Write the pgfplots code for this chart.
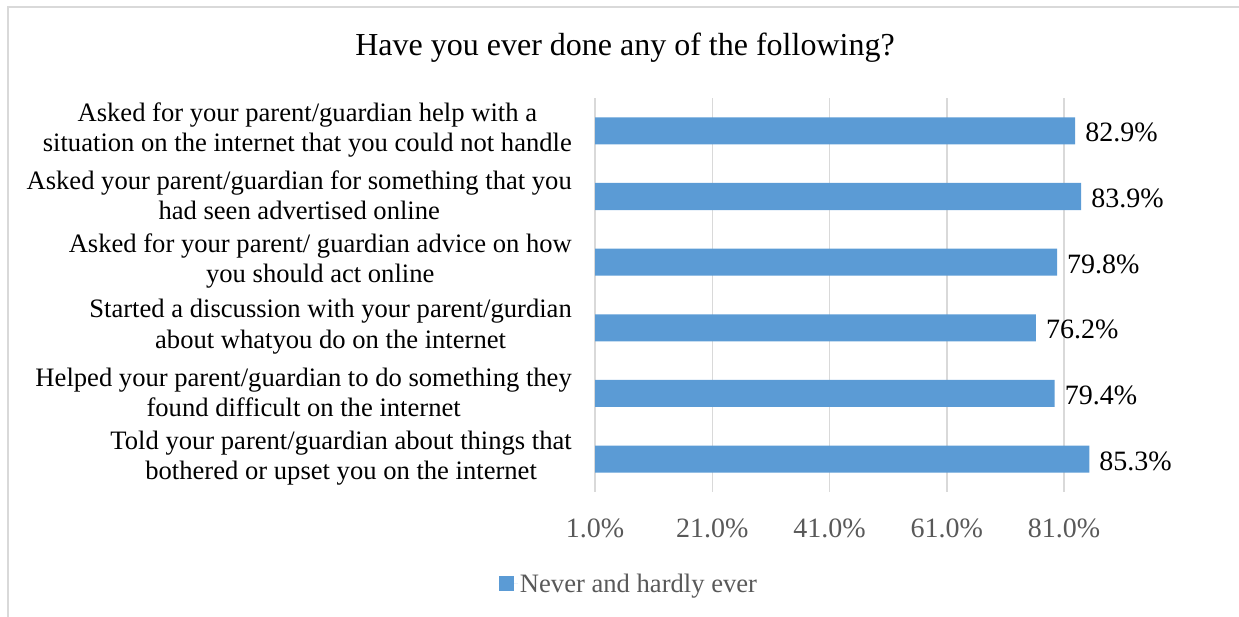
\documentclass[border=0pt]{standalone}
\usepackage{pgfplots}
\pgfplotsset{compat=1.18}
\usepackage{fontspec}
\setmainfont{Liberation Serif}

\definecolor{barblue}{HTML}{5B9BD5}
\definecolor{gridgray}{HTML}{D9D9D9}
\definecolor{labelgray}{HTML}{595959}

\newcommand{\lblfont}{\fontsize{26.6bp}{30.5bp}\selectfont}
\newcommand{\numfont}{\fontsize{28bp}{32bp}\selectfont}
\newcommand{\titlefont}{\fontsize{32bp}{38bp}\selectfont}

\begin{document}
\begin{tikzpicture}
\useasboundingbox (0,0) rectangle (1239bp,617bp);
% chart frame
\draw[gridgray, line width=1.5bp] (8bp,-2bp) -- (8bp,610bp) -- (1241bp,610bp);
% title
\node[font=\titlefont, anchor=center] at (625bp,569bp) {Have you ever done any of the following?};

\begin{axis}[
  at={(595bp,125bp)}, anchor=south west,
  width=557bp, height=394bp, scale only axis,
  xbar, bar width=27bp,
  xmin=1, xmax=96,
  ymin=-0.5, ymax=5.5,
  clip=false,
  /pgf/number format/assume math mode=true,
  axis line style={draw=none},
  major tick length=0pt,
  xmajorgrids,
  major grid style={draw=gridgray, line width=1.5bp},
  xtick={1,21,41,61,81},
  xticklabels={1.0\%,21.0\%,41.0\%,61.0\%,81.0\%},
  xticklabel style={font=\numfont, text=labelgray, anchor=base, yshift=-46bp},
  ytick={0,1,2,3,4,5},
  yticklabels={
    {Told your parent/guardian about things that\\bothered or upset you on the internet},
    {Helped your parent/guardian to do something they\\found difficult on the internet},
    {Started a discussion with your parent/gurdian\\about whatyou do on the internet},
    {Asked for your parent/ guardian advice on how\\you should act online},
    {Asked your parent/guardian for something that you\\had seen advertised online},
    {Asked for your parent/guardian help with a\\situation on the internet that you could not handle}},
  yticklabel style={font=\lblfont, align=center, anchor=east, inner sep=0pt, xshift=-23bp, yshift=1bp},
  nodes near coords={\pgfmathprintnumber[fixed,fixed zerofill,precision=1]{\pgfplotspointmeta}\%},
  nodes near coords style={font=\numfont, text=black, anchor=west, inner sep=0pt, xshift=10bp, yshift=-2bp},
  legend style={at={(0.061,-0.233)}, anchor=center, draw=none, fill=none,
    font=\lblfont, text=labelgray, legend cell align=left},
  legend image code/.code={%
    \fill[barblue] (0bp,-7.5bp) rectangle (15bp,7.5bp);
    \path (0bp,0bp) -- (19bp,0bp);},
]
\addplot[fill=barblue, draw=none] coordinates {
  (85.3,0) (79.4,1) (76.2,2) (79.8,3) (83.9,4) (82.9,5)
};
\addlegendentry{Never and hardly ever}
\end{axis}
\end{tikzpicture}
\end{document}
